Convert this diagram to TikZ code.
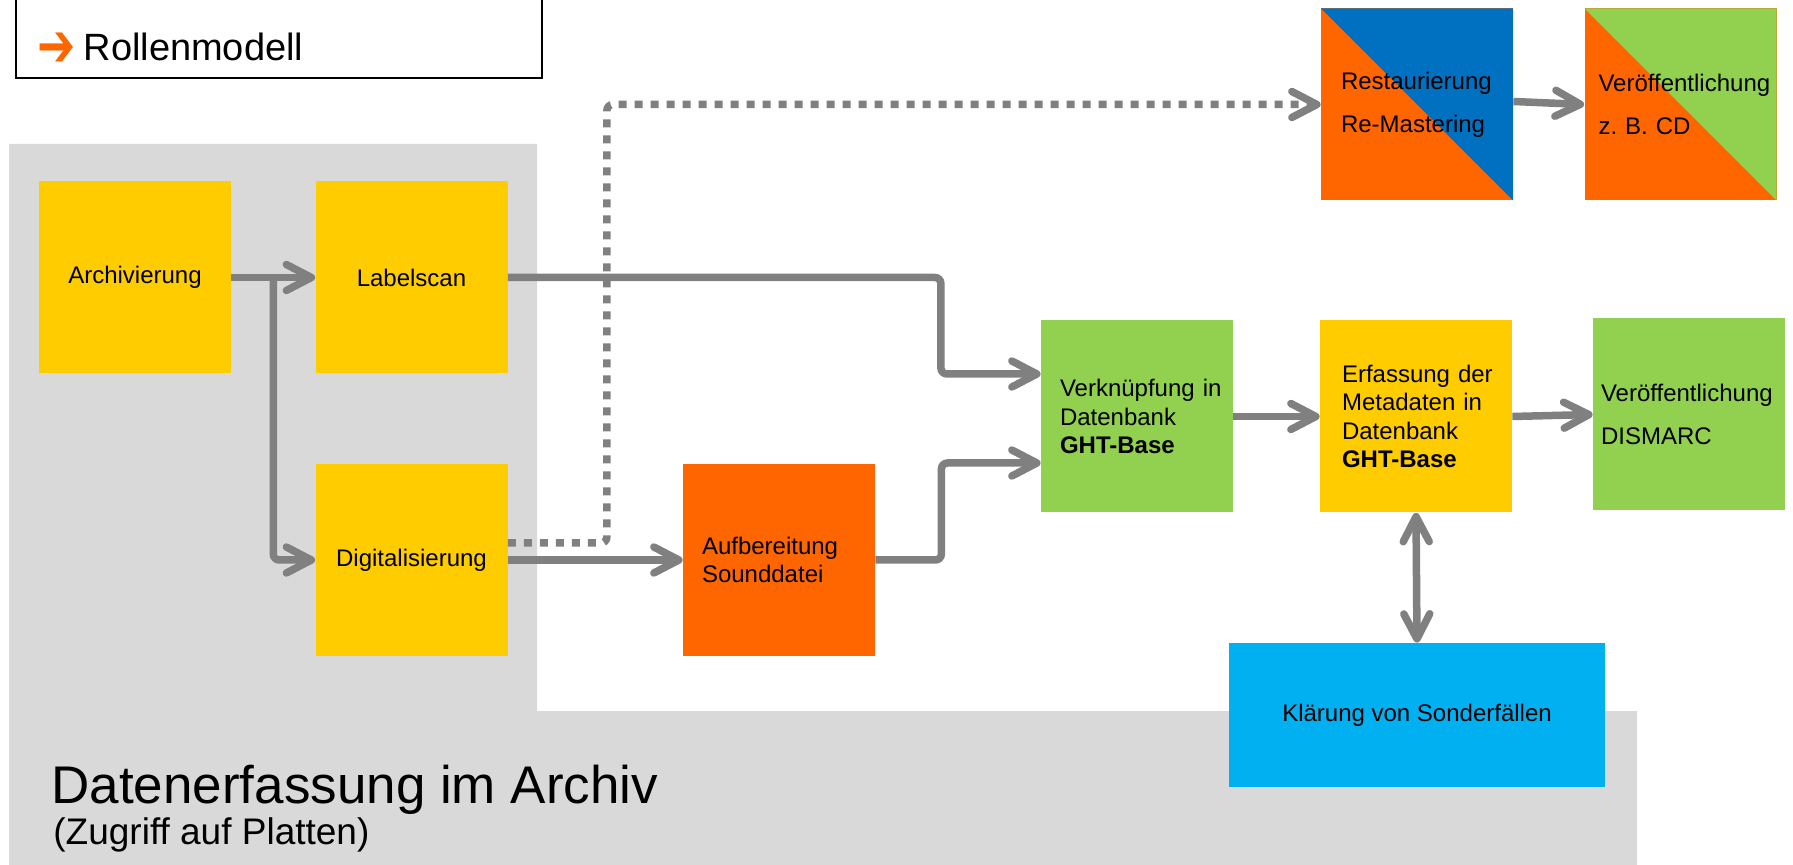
\documentclass[tikz,border=0pt]{standalone}
\usepackage{fontspec}
\usepackage{graphicx}
\setmainfont{Liberation Sans}
\newfontfamily\arrowfont{DejaVu Sans}
\usetikzlibrary{arrows.meta,calc}
\hyphenpenalty=10000
\frenchspacing

\definecolor{cyellow}{HTML}{FFCC00}
\definecolor{corange}{HTML}{FF6600}
\definecolor{cgreen}{HTML}{92D050}
\definecolor{cblue}{HTML}{0070C0}
\definecolor{ccyan}{HTML}{00B0F0}
\definecolor{cgray}{HTML}{D9D9D9}
\definecolor{cline}{HTML}{808080}

\tikzset{
  >={Straight Barb[length=12.5pt,width=13pt,line cap=round,line join=round]},
  box/.style={minimum width=96pt, minimum height=96pt, inner sep=0pt,
    font=\fontsize{12}{14.3}\selectfont},
  lbox/.style={align=left, text width=#1},
  wide/.style={font=\fontsize{12}{21.5}\selectfont},
  split/.style={box, fill=corange, path picture={
    \fill[#1] (path picture bounding box.north west)
      -| (path picture bounding box.south east) -- cycle;}},
  conn/.style={draw=cline, line width=3.75pt, rounded corners=3pt, ->},
  dotconn/.style={conn, dash pattern=on 4pt off 4pt}
}

\begin{document}
\begin{tikzpicture}[x=0.5pt,y=-0.5pt]
  \useasboundingbox (0,0) rectangle (1793,865);
  \clip (0,0) rectangle (1793,865);

  % archive area
  \fill[cgray] (9,144) -- (537,144) -- (537,711) -- (1637,711)
    -- (1637,865) -- (9,865) -- cycle;
  \draw[line width=1.2pt] (16,-20) rectangle (542,78);
  \node[anchor=base west, inner sep=0pt, font=\fontsize{19}{22}\selectfont]
    (rollen) at (37,61)
    {{\arrowfont\color{corange}\raisebox{-3pt}{\scalebox{1.2}[1.6]{➔}}}\hspace{4pt}Rollenmodell};

  \node[box, fill=cyellow] (arch) at (135,277.5) {Archivierung};
  \node[box, fill=cyellow] (label) at (411.5,277.5) {Labelscan};
  \node[box, fill=cyellow] (digi) at (411.5,560) {Digitalisierung};
  \node[box, lbox=77pt, fill=corange] (aufb) at (779,560) {Aufbereitung\\Sounddatei};
  \node[box, lbox=77pt, fill=cgreen] (verk) at (1137,416.5)
    {Verknüpfung~in\\Datenbank\\\textbf{GHT-Base}};
  \node[box, lbox=74pt, fill=cyellow] (erf) at (1416,416.5)
    {Erfassung~der\\Metadaten~in\\Datenbank\\\textbf{GHT-Base}};
  \node[box, lbox=88pt, wide, fill=cgreen] (dism) at (1689,414.5)
    {Veröffentlichung\\DISMARC};
  \node[split=cblue, lbox=76pt, wide] (rest) at (1417,104.5)
    {Restaurierung\\Re-Mastering};
  \node[split=cgreen, lbox=82pt, wide] (cd) at (1680.5,104.5)
    {Veröffentlichung\\z. B. CD};
  \node[box, fill=ccyan, minimum width=188pt, minimum height=72pt] (klar)
    at (1417,715) {Klärung von Sonderfällen};

  \node[anchor=base west, inner sep=0pt, font=\fontsize{26.5}{30}\selectfont]
    (titel) at (51,803) {Datenerfassung im Archiv};
  \node[anchor=base west, inner sep=0pt, font=\fontsize{18.5}{22}\selectfont]
    (zugriff) at (53,844) {(Zugriff auf Platten)};

  \coordinate (verkA) at ([yshift=21.25pt]verk.west);
  \coordinate (verkB) at ([yshift=-23.25pt]verk.west);

  % connectors
  \draw[conn] (arch.east) -- (label.west);
  \draw[conn] ($(arch.east)!.5!(label.west)$) |- (digi.west);
  \draw[conn] (label.east) -- ++(433,0) |- (verkA);
  \draw[conn] (digi.east) -- (aufb.west);
  \draw[dotconn] ([yshift=8.5pt]digi.east) -- ++(99,0) |- (rest.west);
  \draw[conn] (aufb.east) -- ++(66,0) |- (verkB);
  \draw[conn] (verk.east) -- (erf.west);
  \draw[conn] (erf.east) -- (dism.west);
  \draw[conn] ([yshift=1.5pt]rest.east) -- (cd.west);
  \draw[conn, <->] (erf.south) -- (klar.north);
\end{tikzpicture}
\end{document}
